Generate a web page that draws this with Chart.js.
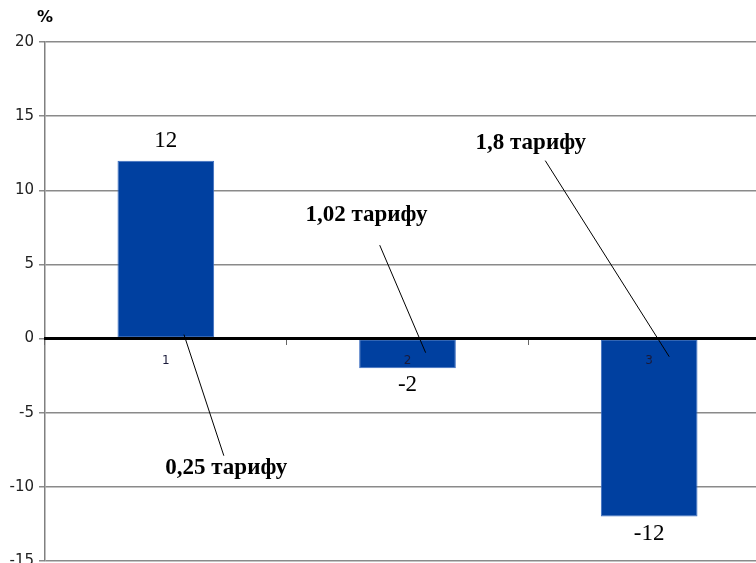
<!DOCTYPE html>
<html>
<head>
<meta charset="utf-8">
<script src="https://cdn.jsdelivr.net/npm/chart.js@4.4.1/dist/chart.umd.min.js"></script>
<style>
  html, body { margin: 0; padding: 0; background: #fff; overflow: hidden; }
  #wrap { width: 770px; height: 575px; position: relative; }
</style>
</head>
<body>
<div id="wrap"><canvas id="c"></canvas></div>
<script>
// Categories and values (percent change)
const categories = ['1', '2', '3'];
const changePct = [12, -2, -12];
const yTickValues = [-15, -10, -5, 0, 5, 10, 15, 20];
const unitLabel = '%';
const noteTexts = ['0,25 тарифу', '1,02 тарифу', '1,8 тарифу'];

// Callout layout in data space: x in category index units, y in percent
const noteLayout = [
  { tx: 0.25, ty: -8.75, x1: 0.075, y1: 0.27, x2: 0.24, y2: -7.9 },
  { tx: 0.83, ty: 8.3, x1: 0.885, y1: 6.3, x2: 1.075, y2: -0.95 },
  { tx: 1.51, ty: 13.2, x1: 1.57, y1: 12.0, x2: 2.083, y2: -1.22 }
];

const valueLabels = {
  id: 'valueLabels',
  afterDatasetsDraw(chart) {
    const ctx = chart.ctx;
    const meta = chart.getDatasetMeta(0);
    ctx.save();
    ctx.font = '23px "Liberation Serif", "Times New Roman", serif';
    ctx.fillStyle = '#000';
    ctx.textAlign = 'center';
    ctx.textBaseline = 'middle';
    meta.data.forEach((bar, i) => {
      const v = changePct[i];
      const y = v >= 0 ? bar.y - 20 : bar.y + 17;
      ctx.fillText(String(v), bar.x, y);
    });
    ctx.restore();
  }
};

const callouts = {
  id: 'callouts',
  afterDraw(chart) {
    const ctx = chart.ctx;
    const xs = chart.scales.x, ys = chart.scales.y;
    const px = v => {
      const a = xs.getPixelForValue(0), b = xs.getPixelForValue(1);
      return a + (b - a) * v;
    };
    ctx.save();
    ctx.strokeStyle = '#000';
    ctx.lineWidth = 1;
    noteLayout.forEach((n, i) => {
      ctx.beginPath();
      ctx.moveTo(px(n.x1), ys.getPixelForValue(n.y1));
      ctx.lineTo(px(n.x2), ys.getPixelForValue(n.y2));
      ctx.stroke();
      ctx.font = 'bold 23px "Liberation Serif", "Times New Roman", serif';
      ctx.fillStyle = '#000';
      ctx.textAlign = 'center';
      ctx.textBaseline = 'middle';
      ctx.fillText(noteTexts[i], px(n.tx), ys.getPixelForValue(n.ty));
    });
    // unit label above the value axis
    ctx.font = 'bold 16px "DejaVu Sans", sans-serif';
    ctx.textAlign = 'center';
    ctx.fillText(unitLabel, chart.chartArea.left, chart.chartArea.top - 24);
    ctx.restore();
  }
};

new Chart(document.getElementById('c'), {
  type: 'bar',
  data: {
    labels: categories,
    datasets: [{
      data: changePct,
      backgroundColor: '#0040A0',
      borderColor: '#3a6cc0',
      borderWidth: 1,
      borderSkipped: false,
      categoryPercentage: 1,
      barPercentage: 0.4
    }]
  },
  options: {
    responsive: true,
    maintainAspectRatio: false,
    animation: false,
    layout: { padding: { top: 42, bottom: 5, left: 0, right: 0 } },
    plugins: { legend: { display: false }, tooltip: { enabled: false } },
    scales: {
      x: {
        position: { y: 0 },
        offset: true,
        border: { display: true, color: '#000', width: 3, z: 1 },
        grid: { display: true, drawOnChartArea: false, offset: true, tickLength: 5, color: '#666', lineWidth: 1, z: 1 },
        ticks: { z: 1, padding: 10, color: '#1a1a3a', autoSkip: false, maxRotation: 0, font: { family: 'DejaVu Sans', size: 12 } }
      },
      y: {
        min: -15,
        max: 20,
        afterBuildTicks(scale) { scale.ticks = yTickValues.map(v => ({ value: v })); },
        afterFit(scale) { scale.width = 45; },
        border: { display: true, color: '#808080', width: 1.5 },
        grid: { color: '#8a8a8a', lineWidth: 1.5, tickLength: 6 },
        ticks: { padding: 5, color: '#222', font: { family: 'DejaVu Sans', size: 15 } }
      }
    }
  },
  plugins: [valueLabels, callouts]
});
</script>
</body>
</html>
